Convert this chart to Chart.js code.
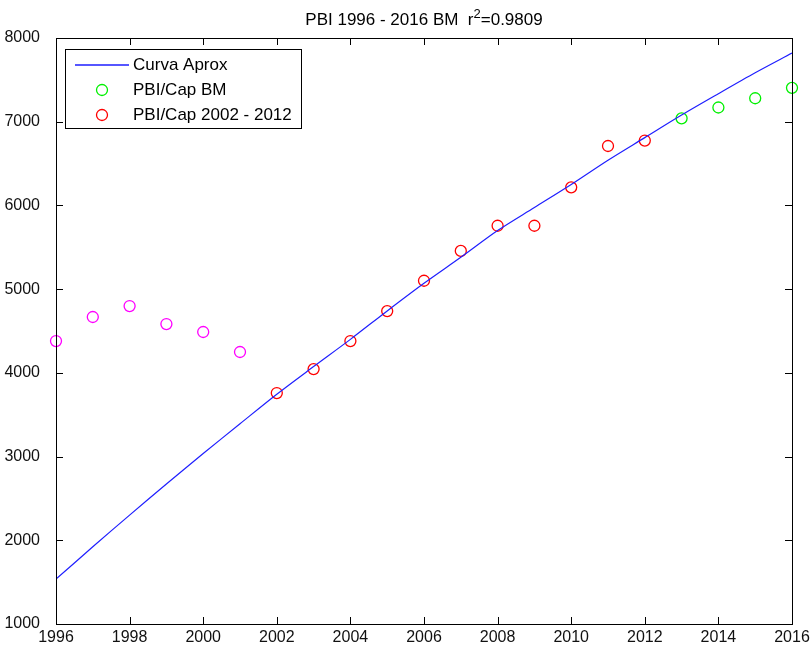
<!DOCTYPE html>
<html>
<head>
<meta charset="utf-8">
<script src="https://cdn.jsdelivr.net/npm/chart.js@4.4.1/dist/chart.umd.min.js"></script>
<style>
  body { margin: 0; background: #fff; }
  #wrap { width: 811px; height: 646px; }
</style>
</head>
<body>
<div id="wrap"><canvas id="pbiChart" width="811" height="646"></canvas></div>
<script>
// años y valores
const curveYears = [1996, 1997, 1998, 1999, 2000, 2001, 2002, 2003, 2004, 2005, 2006,
                    2007, 2008, 2009, 2010, 2011, 2012, 2013, 2014, 2015, 2016];
const curveValues = [1536, 1922, 2301, 2672, 3036, 3392, 3745, 4075, 4400, 4740, 5070,
                     5380, 5700, 5975, 6250, 6540, 6810, 7080, 7335, 7585, 7820];

const earlyYears = [1996, 1997, 1998, 1999, 2000, 2001];
const earlyValues = [4380, 4667, 4798, 4583, 4488, 4249];

const redYears = [2002, 2003, 2004, 2005, 2006, 2007, 2008, 2009, 2010, 2011, 2012];
const redValues = [3759, 4045, 4380, 4738, 5100, 5457, 5757, 5757, 6216, 6710, 6775];

const bmYears = [2013, 2014, 2015, 2016];
const bmValues = [7040, 7170, 7280, 7405];

const xTicks = { min: 1996, max: 2016, step: 2 };
const yTicks = { min: 1000, max: 8000, step: 1000 };

// titulo: texto, superindice, resto
const titleParts = ['PBI 1996 - 2016 BM  r', '2', '=0.9809'];
const legendOrder = [0, 1, 2];

const FONT = '"Liberation Sans", Arial, Helvetica, sans-serif';

function toPoints(xs, ys) {
    return xs.map((x, i) => ({ x: x, y: ys[i] }));
}

// caja y ticks hacia adentro, estilo matlab, titulo y leyenda dentro del area
const matlabFrame = {
    id: 'matlabFrame',
    afterDatasetsDraw(chart) {
        const ctx = chart.ctx;
        const a = chart.chartArea;
        const xs = chart.scales.x;
        const ys = chart.scales.y;
        const tl = 7;

        ctx.save();
        ctx.strokeStyle = '#000';
        ctx.lineWidth = 1;
        ctx.strokeRect(a.left + 0.5, a.top + 0.5, a.right - a.left, a.bottom - a.top);

        ctx.beginPath();
        xs.ticks.forEach(t => {
            const px = Math.round(xs.getPixelForValue(t.value)) + 0.5;
            ctx.moveTo(px, a.bottom);
            ctx.lineTo(px, a.bottom - tl);
            ctx.moveTo(px, a.top);
            ctx.lineTo(px, a.top + tl);
        });
        ys.ticks.forEach(t => {
            const py = Math.round(ys.getPixelForValue(t.value)) + 0.5;
            ctx.moveTo(a.left, py);
            ctx.lineTo(a.left + tl, py);
            ctx.moveTo(a.right, py);
            ctx.lineTo(a.right - tl, py);
        });
        ctx.stroke();

        // titulo con superindice
        ctx.fillStyle = '#000';
        ctx.textBaseline = 'alphabetic';
        ctx.textAlign = 'left';
        const mainFont = '17px ' + FONT;
        const supFont = '13px ' + FONT;
        ctx.font = mainFont;
        const w0 = ctx.measureText(titleParts[0]).width;
        const w2 = ctx.measureText(titleParts[2]).width;
        ctx.font = supFont;
        const w1 = ctx.measureText(titleParts[1]).width;
        let tx = (a.left + a.right) / 2 - (w0 + w1 + w2) / 2;
        const base = a.top - 13;
        ctx.font = mainFont;
        ctx.fillText(titleParts[0], tx, base);
        tx += w0;
        ctx.font = supFont;
        ctx.fillText(titleParts[1], tx, base - 7);
        tx += w1;
        ctx.font = mainFont;
        ctx.fillText(titleParts[2], tx, base);

        // leyenda
        const bx = a.left + 9, by = a.top + 11, bw = 236, bh = 79;
        ctx.fillStyle = '#fff';
        ctx.fillRect(bx, by, bw, bh);
        ctx.strokeStyle = '#000';
        ctx.lineWidth = 1;
        ctx.strokeRect(bx + 0.5, by + 0.5, bw, bh);

        ctx.font = '17px ' + FONT;
        ctx.textBaseline = 'middle';
        legendOrder.forEach((idx, i) => {
            const ds = chart.data.datasets[idx];
            const ry = by + 16 + i * 25;
            ctx.strokeStyle = ds.borderColor;
            if (ds.showLine) {
                ctx.lineWidth = 1.5;
                ctx.beginPath();
                ctx.moveTo(bx + 10, ry);
                ctx.lineTo(bx + 64, ry);
                ctx.stroke();
            } else {
                ctx.lineWidth = ds.pointBorderWidth;
                ctx.beginPath();
                ctx.arc(bx + 37, ry, ds.pointRadius, 0, Math.PI * 2);
                ctx.stroke();
            }
            ctx.fillStyle = '#000';
            ctx.fillText(ds.label, bx + 68, ry);
        });
        ctx.restore();
    }
};

const markerStyle = {
    showLine: false,
    pointRadius: 5.5,
    pointBorderWidth: 1.3,
    pointBackgroundColor: 'rgba(0,0,0,0)',
    clip: false
};

new Chart(document.getElementById('pbiChart').getContext('2d'), {
    type: 'scatter',
    data: {
        datasets: [
            {
                label: 'Curva Aprox',
                data: toPoints(curveYears, curveValues),
                showLine: true,
                borderColor: 'rgb(30,30,255)',
                borderWidth: 1.2,
                pointRadius: 0,
                tension: 0.3
            },
            Object.assign({
                label: 'PBI/Cap BM',
                data: toPoints(bmYears, bmValues),
                borderColor: 'rgb(0,240,0)'
            }, markerStyle),
            Object.assign({
                label: 'PBI/Cap 2002 - 2012',
                data: toPoints(redYears, redValues),
                borderColor: 'rgb(255,0,0)'
            }, markerStyle),
            Object.assign({
                label: 'PBI/Cap 1996 - 2001',
                data: toPoints(earlyYears, earlyValues),
                borderColor: 'rgb(255,0,255)'
            }, markerStyle)
        ]
    },
    options: {
        responsive: false,
        animation: false,
        layout: { padding: { left: 0, right: 19, top: 38, bottom: 0 } },
        plugins: {
            legend: { display: false },
            tooltip: { enabled: false },
            title: { display: false }
        },
        scales: {
            x: {
                type: 'linear',
                min: xTicks.min,
                max: xTicks.max,
                grid: { display: false },
                border: { display: false },
                ticks: {
                    stepSize: xTicks.step,
                    color: '#111',
                    padding: -2,
                    maxRotation: 0,
                    font: { family: FONT, size: 16, lineHeight: 1 },
                    callback: v => String(v)
                },
                afterFit(scale) { scale.height = 22; }
            },
            y: {
                min: yTicks.min,
                max: yTicks.max,
                grid: { display: false },
                border: { display: false },
                ticks: {
                    stepSize: yTicks.step,
                    color: '#111',
                    padding: 8,
                    font: { family: FONT, size: 16 },
                    callback: v => String(v)
                },
                afterFit(scale) { scale.width = 56; }
            }
        }
    },
    plugins: [matlabFrame]
});
</script>
</body>
</html>
